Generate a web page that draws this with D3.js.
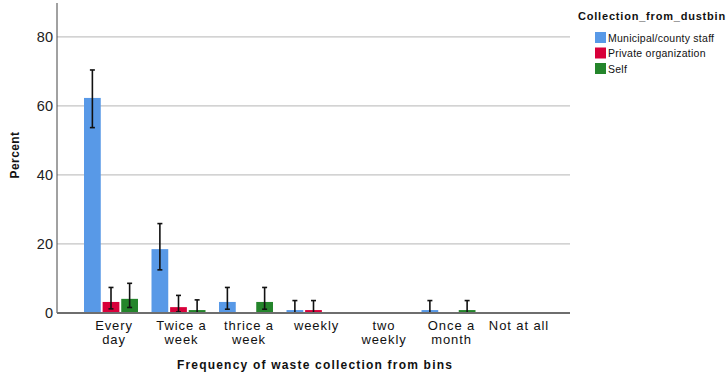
<!DOCTYPE html>
<html>
<head>
<meta charset="utf-8">
<script src="https://cdn.jsdelivr.net/npm/d3@7"></script>
<style>
  body { margin: 0; background: #fff; }
  svg { display: block; font-family: Arial, "Liberation Sans", sans-serif; }
</style>
</head>
<body>
<div class="chart"></div>
<script>
var width = 726, height = 375;

// data
var categories = [["Every", "day"], ["Twice a", "week"], ["thrice a", "week"], ["weekly"],
                  ["two", "weekly"], ["Once a", "month"], ["Not at all"]];
var groups = ["Municipal/county staff", "Private organization", "Self"];
var colors = ["#5899e7", "#d8003a", "#24852b"];
var municipal = [62.3, 18.5, 3.2, 0.85, 0, 0.85, 0];
var municipalLo = [53.7, 12.5, 1.1, 0, 0, 0, 0];
var municipalHi = [70.4, 25.9, 7.4, 3.6, 0, 3.6, 0];
var privateOrg = [3.2, 1.7, 0, 0.85, 0, 0, 0];
var privateLo = [1.2, 0.3, 0, 0, 0, 0, 0];
var privateHi = [7.4, 5.1, 0, 3.6, 0, 0, 0];
var self = [4.1, 0.85, 3.2, 0, 0, 0.85, 0];
var selfLo = [1.6, 0, 1.1, 0, 0, 0, 0];
var selfHi = [8.6, 3.8, 7.4, 0, 0, 3.6, 0];
var yTicks = [0, 20, 40, 60, 80];

var series = [
  { name: groups[0], vals: municipal, lo: municipalLo, hi: municipalHi },
  { name: groups[1], vals: privateOrg, lo: privateLo, hi: privateHi },
  { name: groups[2], vals: self, lo: selfLo, hi: selfHi }
];

var margin = { left: 57, right: 156, top: 3, bottom: 62 };

var svg = d3.select(".chart").append("svg")
    .attr("width", width)
    .attr("height", height);

var x = d3.scaleBand()
    .domain(d3.range(categories.length))
    .range([margin.left, width - margin.right])
    .paddingInner(0.2)
    .paddingOuter(0.4);

var xInner = d3.scaleBand()
    .domain(d3.range(groups.length))
    .range([0, x.bandwidth()])
    .paddingInner(0.1);

var y = d3.scaleLinear()
    .domain([0, 89.8])
    .range([height - margin.bottom, margin.top]);

// gridlines
svg.append("g")
    .selectAll("line")
    .data(yTicks.slice(1))
    .enter().append("line")
    .attr("x1", margin.left)
    .attr("x2", width - margin.right)
    .attr("y1", d => y(d))
    .attr("y2", d => y(d))
    .attr("stroke", "#c4c4c4")
    .attr("stroke-width", 1.3);

// bars
var rows = [];
series.forEach(function(s, si) {
    s.vals.forEach(function(v, ci) {
        if (v > 0) rows.push({ si: si, ci: ci, v: v, lo: s.lo[ci], hi: s.hi[ci] });
    });
});

svg.append("g")
    .selectAll("rect")
    .data(rows)
    .enter().append("rect")
    .attr("x", d => x(d.ci) + xInner(d.si))
    .attr("width", xInner.bandwidth())
    .attr("y", d => y(d.v))
    .attr("height", d => y(0) - y(d.v))
    .attr("fill", d => colors[d.si]);

// error bars
var eb = svg.append("g")
    .attr("stroke", "#111")
    .attr("stroke-width", 1.6)
    .selectAll("g")
    .data(rows)
    .enter().append("g")
    .attr("transform", d => "translate(" + (x(d.ci) + xInner(d.si) + xInner.bandwidth() / 2) + ",0)");

eb.append("line")
    .attr("y1", d => y(d.hi))
    .attr("y2", d => y(d.lo));
eb.append("line")
    .attr("x1", -2.5).attr("x2", 2.5)
    .attr("y1", d => y(d.hi)).attr("y2", d => y(d.hi));
eb.append("line")
    .attr("x1", -2.5).attr("x2", 2.5)
    .attr("y1", d => y(d.lo)).attr("y2", d => y(d.lo));

// y axis
svg.append("line")
    .attr("x1", margin.left).attr("x2", margin.left)
    .attr("y1", margin.top).attr("y2", y(0))
    .attr("stroke", "#444")
    .attr("stroke-width", 1);

svg.append("g")
    .selectAll("text")
    .data(yTicks)
    .enter().append("text")
    .attr("x", margin.left - 4)
    .attr("y", d => y(d) + 5)
    .attr("text-anchor", "end")
    .attr("font-size", 14.5)
    .attr("fill", "#222")
    .text(d => d);

// x axis
svg.append("line")
    .attr("x1", margin.left).attr("x2", width - margin.right)
    .attr("y1", y(0)).attr("y2", y(0))
    .attr("stroke", "#6e6e6e")
    .attr("stroke-width", 2);

var xl = svg.append("g")
    .selectAll("text")
    .data(categories)
    .enter().append("text")
    .attr("text-anchor", "middle")
    .attr("font-size", 13)
    .attr("letter-spacing", 0.9)
    .attr("fill", "#111")
    .attr("transform", (d, i) => "translate(" + (x(i) + x.bandwidth() / 2 + 3) + ",330)");

xl.selectAll("tspan")
    .data(d => d)
    .enter().append("tspan")
    .attr("x", 0)
    .attr("dy", (d, i) => i === 0 ? 0 : 14)
    .text(d => d);

// axis titles
svg.append("text")
    .attr("x", 315)
    .attr("y", 369)
    .attr("text-anchor", "middle")
    .attr("font-size", 12)
    .attr("letter-spacing", 1.2)
    .attr("font-weight", "bold")
    .attr("fill", "#111")
    .text("Frequency of waste collection from bins");

svg.append("text")
    .attr("transform", "translate(19,155) rotate(-90)")
    .attr("text-anchor", "middle")
    .attr("font-size", 12)
    .attr("letter-spacing", 0.4)
    .attr("font-weight", "bold")
    .attr("fill", "#111")
    .text("Percent");

// legend
var legend = svg.append("g");
legend.append("text")
    .attr("x", 578)
    .attr("y", 20)
    .attr("font-size", 11)
    .attr("letter-spacing", 0.8)
    .attr("font-weight", "bold")
    .attr("fill", "#111")
    .text("Collection_from_dustbin");

var li = legend.selectAll(".legend-item")
    .data(groups)
    .enter().append("g")
    .attr("class", "legend-item")
    .attr("transform", (d, i) => "translate(595," + (32 + i * 15.5) + ")");

li.append("rect")
    .attr("width", 11)
    .attr("height", 11)
    .attr("fill", (d, i) => colors[i]);

li.append("text")
    .attr("x", 13)
    .attr("y", 9.5)
    .attr("font-size", 10.5)
    .attr("letter-spacing", 0.25)
    .attr("fill", "#111")
    .text(d => d);
</script>
</body>
</html>
